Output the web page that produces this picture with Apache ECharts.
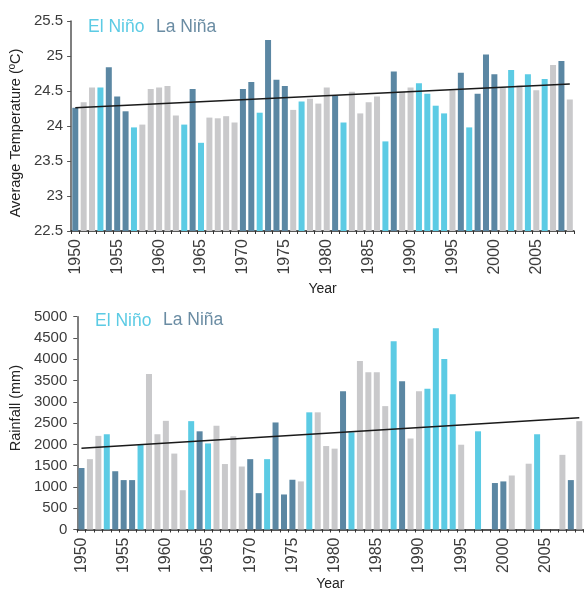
<!DOCTYPE html>
<html>
<head>
<meta charset="utf-8">
<script src="https://cdn.jsdelivr.net/npm/echarts@6/dist/echarts.min.js"></script>
<style>
html,body{margin:0;padding:0;background:#fff;}
#c{width:584px;height:592px;}
</style>
</head>
<body>
<div id="c"></div>
<script>
// ---- data ----
const years = [];
for (let y = 1950; y <= 2009; y++) years.push(String(y));

// phase per year: E = El Niño, L = La Niña, N = neutral
const phases = [
  'L','N','N','E','L','L','L','E','N','N',
  'N','N','N','E','L','E','N','N','N','N',
  'L','L','E','L','L','L','N','E','N','N',
  'N','L','E','N','N','N','N','E','L','N',
  'N','E','E','E','E','N','L','E','L','L',
  'L','N','E','N','E','N','E','N','L','N'
];

const temperature = [
  24.26, 24.34, 24.55, 24.55, 24.84, 24.42, 24.21, 23.98, 24.02, 24.53,
  24.55, 24.57, 24.15, 24.02, 24.53, 23.76, 24.12, 24.11, 24.14, 24.05,
  24.53, 24.63, 24.19, 25.23, 24.66, 24.57, 24.23, 24.35, 24.39, 24.32,
  24.55, 24.43, 24.05, 24.49, 24.18, 24.34, 24.42, 23.78, 24.78, 24.49,
  24.55, 24.61, 24.46, 24.29, 24.18, 24.51, 24.76, 23.98, 24.46, 25.02,
  24.74, 24.55, 24.80, 24.58, 24.74, 24.51, 24.67, 24.87, 24.93, 24.38
];

const rainfall = [
  1445, 1653, 2200, 2238, 1369, 1161, 1161, 1984, 3653, 2238,
  2553, 1784, 923, 2546, 2307, 2022, 2438, 1538, 2192, 1480,
  1653, 854, 1653, 2515, 823, 1169, 1130, 2753, 2753, 1961,
  1900, 3246, 2284, 3961, 3692, 3692, 2899, 4423, 3484, 2138,
  3246, 3307, 4731, 4007, 3176, 1992, null, 2307, null, 1092,
  1130, 1269, null, 1546, 2238, null, null, 1754, 1161, 2546
];

// trend line end points (first and last year)
const tempTrend = [24.26, 24.60];
const rainTrend = [1910, 2625];

const tempTicks = { min: 22.5, max: 25.5, interval: 0.5 };
const rainTicks = { min: 0, max: 5000, interval: 500 };

// ---- style ----
const phaseColor = { E: '#5ccbe4', L: '#5b87a3', N: '#c9c9cb' };
const textColor = '#3c3c3c';
const font = 'Liberation Sans, Arial, sans-serif';

function barData(vals) {
  return vals.map((v, i) => ({ value: v, itemStyle: { color: phaseColor[phases[i]] } }));
}

const chart = echarts.init(document.getElementById('c'), null, { renderer: 'canvas' });

function xAx(gridIndex, gap) {
  return {
    type: 'category', gridIndex, data: years,
    axisLine: { lineStyle: { color: '#222', width: 1.5 } },
    axisTick: { show: true, interval: 0, length: 3, lineStyle: { color: '#333' } },
    axisLabel: { interval: 4, rotate: 90, color: textColor, fontSize: 16, fontFamily: font, margin: 8 },
    name: 'Year', nameLocation: 'middle', nameGap: gap,
    nameTextStyle: { color: '#222', fontSize: 14, fontFamily: font }
  };
}
function yAx(gridIndex, ticks, name, gap, margin, namePad) {
  return {
    type: 'value', gridIndex, min: ticks.min, max: ticks.max, interval: ticks.interval,
    splitLine: { show: false },
    axisLine: { show: true, lineStyle: { color: '#555', width: 1.5 } },
    axisTick: { show: true, length: 4, lineStyle: { color: '#555' } },
    axisLabel: { color: textColor, fontSize: 15, fontFamily: font, margin, formatter: v => String(v) },
    name, nameLocation: 'middle', nameGap: gap, nameRotate: 90,
    nameTextStyle: { color: '#222', fontSize: 14.5, fontFamily: font, padding: namePad }
  };
}

const option = {
  animation: false,
  backgroundColor: '#fff',
  grid: [
    { left: 70, width: 504, top: 21, height: 210 },
    { left: 73.5, width: 510, top: 316.7, height: 216.6 }
  ],
  xAxis: [xAx(0, 51), xAx(1, 46)],
  yAxis: [
    yAx(0, tempTicks, 'Average Temperature (ºC)', 44, 8, [0, 14, 0, 0]),
    yAx(1, rainTicks, 'Rainfall (mm)', 48, 10, [0, 0, 0, 30])
  ],
  series: [
    { type: 'bar', xAxisIndex: 0, yAxisIndex: 0, data: barData(temperature), barWidth: 6 },
    { type: 'bar', xAxisIndex: 1, yAxisIndex: 1, data: barData(rainfall), barWidth: 6 },
    { type: 'line', xAxisIndex: 0, yAxisIndex: 0, symbol: 'none',
      lineStyle: { color: '#1a1a1a', width: 1.5 },
      data: [[years[0], tempTrend[0]], [years[years.length - 1], tempTrend[1]]] },
    { type: 'line', xAxisIndex: 1, yAxisIndex: 1, symbol: 'none',
      lineStyle: { color: '#1a1a1a', width: 1.5 },
      data: [[years[0], rainTrend[0]], [years[years.length - 1], rainTrend[1]]] }
  ],
  graphic: [
    { type: 'text', left: 88, top: 18, style: { text: 'El Niño', fill: '#5ccbe4', fontSize: 17.5, fontFamily: font } },
    { type: 'text', left: 156, top: 18, style: { text: 'La Niña', fill: '#6a8ca3', fontSize: 17.5, fontFamily: font } },
    { type: 'text', left: 95, top: 312, style: { text: 'El Niño', fill: '#5ccbe4', fontSize: 17.5, fontFamily: font } },
    { type: 'text', left: 163, top: 311, style: { text: 'La Niña', fill: '#6a8ca3', fontSize: 17.5, fontFamily: font } }
  ]
};
chart.setOption(option);
</script>
</body>
</html>
